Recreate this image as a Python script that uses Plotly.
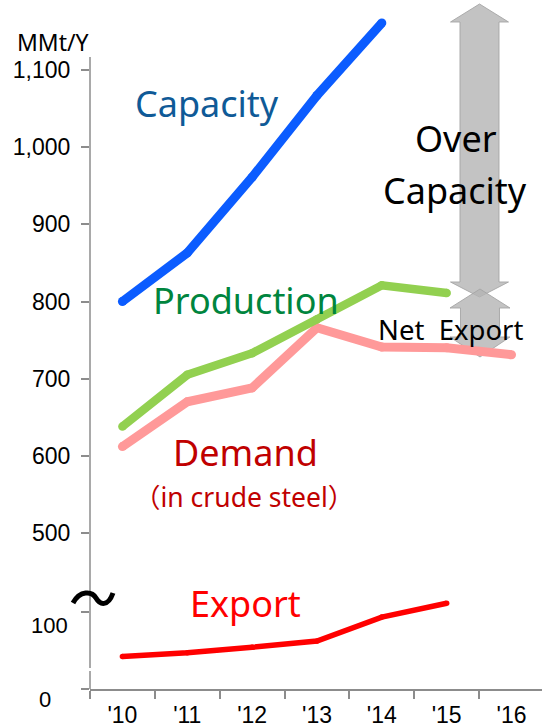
import plotly.graph_objects as go

# ---------------- data ----------------
years = ["'10", "'11", "'12", "'13", "'14", "'15", "'16"]
capacity = [800, 863, 961, 1067, 1161]
production = [638, 705, 733, 777, 821, 811]
demand = [612, 670, 688, 766, 741, 740, 731]
export = [42, 47, 54, 62, 93, 111]
upper_ticks = [500, 600, 700, 800, 900, 1000, 1100]
lower_ticks = [0, 100]

# ---------------- geometry helpers (pixel -> paper) ----------------
W, H = 542, 728
ML, MR, MT, MB = 90, 0, 0, 39
PW, PH = W - ML - MR, H - MT - MB


def px(x):
    return (x - ML) / PW


def py(y):
    return (H - MB - y) / PH


split = py(580)
AX = "#8c8c8c"
TICKFONT = dict(family="Liberation Sans, Arial", size=23, color="black")
TXT = "Noto Sans, Noto Sans CJK JP"

fig = go.Figure()


def add_line(xs, ys, color, width, yaxis):
    fig.add_trace(go.Scatter(
        x=xs, y=ys, mode="lines+markers", yaxis=yaxis, xaxis="x",
        line=dict(color=color, width=width),
        marker=dict(color=color, size=width, line=dict(width=0)),
        hoverinfo="skip", showlegend=False, cliponaxis=False))


add_line(years[:len(capacity)], capacity, "#0B5CFF", 9, "y2")
add_line(years[:len(demand)], demand, "#FF9999", 9, "y2")
add_line(years[:len(production)], production, "#92D050", 8.5, "y2")
add_line(years[:len(export)], export, "#FF0000", 5.5, "y")

shapes = []
# y-axis line (with the small break near the bottom)
for a, b in [(57, 668), (671, 689)]:
    shapes.append(dict(type="line", xref="paper", yref="paper", x0=0, x1=0,
                       y0=py(a), y1=py(b), line=dict(color=AX, width=1.5)))


def arrow(cx, top, hb1, hb2, bot, hw, sw):
    pts = [(cx, top), (cx + hw, hb1), (cx + sw, hb1), (cx + sw, hb2), (cx + hw, hb2),
           (cx, bot), (cx - hw, hb2), (cx - sw, hb2), (cx - sw, hb1), (cx - hw, hb1)]
    d = "M " + " L ".join(f"{px(x):.5f},{py(y):.5f}" for x, y in pts) + " Z"
    return dict(type="path", xref="paper", yref="paper", path=d, layer="below",
                fillcolor="rgba(180,180,180,0.8)", line=dict(color="rgba(165,165,165,0.9)", width=1))


shapes.append(arrow(479.5, 4, 22, 282, 297, 29, 19.5))
shapes.append(arrow(480, 289, 308, 337, 357, 30, 19.5))

# axis-break tilde
tpts = [(73, 603), (80, 590), (92, 591), (96, 598), (100, 605), (108, 607), (113, 593)]
tpath = "M {} C {} {} {} C {} {} {}".format(*[f"{px(x):.5f},{py(y):.5f}" for x, y in tpts])
shapes.append(dict(type="path", xref="paper", yref="paper", path=tpath,
                   line=dict(color="black", width=5)))


def ann(text, x, y, size, color="black", family=TXT):
    return dict(text=text, xref="paper", yref="paper", x=px(x), y=py(y),
                xanchor="center", yanchor="middle", showarrow=False,
                font=dict(family=family, size=size, color=color))


annotations = [
    ann("MMt/Y", 53, 42, 23),
    ann("Capacity", 207, 103, 36, "#0F5A97"),
    ann("Over", 456, 138, 36),
    ann("Capacity", 455, 190, 36),
    ann("Production", 246, 300, 36, "#00853E"),
    ann("Net\u00a0\u00a0Export", 450, 329, 27.5),
    ann("Demand", 245, 453, 36, "#C00000"),
    ann("\uff08in crude steel\uff09", 244, 497, 26.5, "#C00000"),
    ann("Export", 245, 603, 36, "#FF0000"),
    ann("100", 49, 625, 22, family="Liberation Sans, Arial"),
    ann("0", 45, 699, 22, family="Liberation Sans, Arial"),
]

fig.update_layout(
    width=W, height=H,
    margin=dict(l=ML, r=MR, t=MT, b=MB, autoexpand=False),
    plot_bgcolor="white", paper_bgcolor="white",
    showlegend=False,
    xaxis=dict(type="category", categoryorder="array", categoryarray=years,
               range=[-0.5, 6.47], showline=True, linecolor=AX, linewidth=1.5,
               ticks="outside", ticklen=8, tickwidth=1.5, tickcolor=AX,
               tickson="boundaries", showgrid=False, zeroline=False,
               tickfont=TICKFONT, anchor="y", ticklabelstandoff=5, automargin=False),
    yaxis=dict(domain=[0, split], range=[0, 141], tickvals=lower_ticks,
               showticklabels=False, ticks="outside", ticklen=8, tickwidth=1.5,
               tickcolor=AX, showline=False, showgrid=False, zeroline=False,
               anchor="x", automargin=False),
    yaxis2=dict(domain=[split, 1], range=[439.1, 1190.7], tickvals=upper_ticks,
                tickformat=",", ticks="outside", ticklen=8, tickwidth=1.5,
                tickcolor=AX, showline=False, showgrid=False, zeroline=False,
                tickfont=TICKFONT, anchor="x", ticklabelstandoff=6, automargin=False),
    shapes=shapes,
    annotations=annotations,
)

fig.write_html(
    "out.html",
    config={"displayModeBar": False},
    post_script="document.body.style.margin='0px';document.body.style.overflow='hidden';",
)
